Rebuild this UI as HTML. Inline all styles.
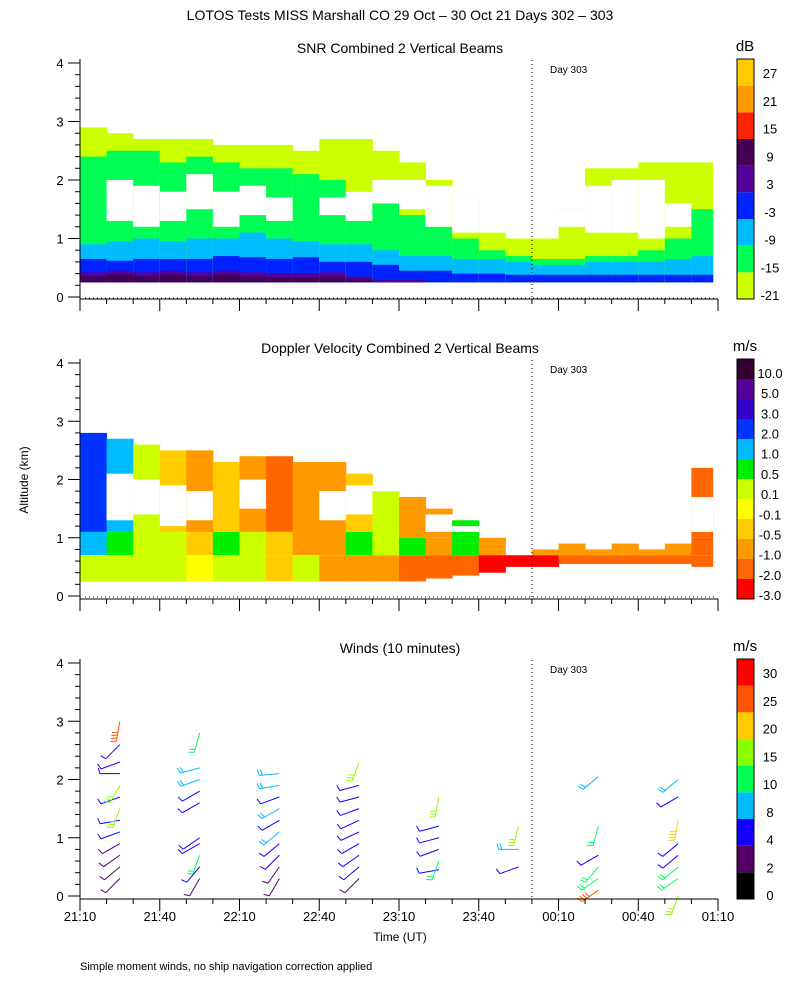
<!DOCTYPE html>
<html><head><meta charset="utf-8"><style>
body{margin:0;background:#fff;}
svg{display:block;font-family:"Liberation Sans",sans-serif;}
</style></head><body>
<svg id="chart" width="800" height="1000" viewBox="0 0 800 1000">
<rect width="800" height="1000" fill="#fff"/>
<text x="400" y="20" text-anchor="middle" font-size="14">LOTOS Tests MISS Marshall CO  29 Oct – 30 Oct 21 Days 302 – 303</text>
<text x="400" y="53" text-anchor="middle" font-size="14">SNR Combined 2 Vertical Beams</text>
<text x="400" y="353" text-anchor="middle" font-size="14">Doppler Velocity Combined 2 Vertical Beams</text>
<text x="400" y="653" text-anchor="middle" font-size="14">Winds (10 minutes)</text>
<text x="28" y="480" text-anchor="middle" font-size="12" transform="rotate(-90 28 480)">Altitude (km)</text>
<text x="400" y="941" text-anchor="middle" font-size="12">Time (UT)</text>
<text x="80" y="970" font-size="11">Simple moment winds, no ship navigation correction applied</text>
<g id="layer"></g>
</svg>
<script>
// ---- data ----
const colTimes = [0,10,20,30,40,50,60,70,80,90,100,110,120,130,140,150,160,170,180,190,200,210,220,230]; // minutes after 21:10
const snrPurpleTop = [0.42,0.45,0.42,0.45,0.42,0.45,0.42,0.4,0.4,0.42,0.35,0.3,0.3,0,0,0,0,0,0,0,0,0,0,0];
const snrBlueTop = [0.65,0.62,0.65,0.65,0.65,0.7,0.68,0.65,0.68,0.6,0.6,0.55,0.45,0.45,0.4,0.4,0.38,0.38,0.38,0.38,0.38,0.38,0.38,0.38];
const snrCyanTop = [0.9,0.95,1.0,0.95,1.0,1.0,1.1,1.0,0.95,0.9,0.9,0.8,0.7,0.7,0.65,0.65,0.6,0.55,0.55,0.6,0.6,0.6,0.65,0.7];
const snrGreenTop = [2.4,2.5,2.5,2.3,2.4,2.3,2.2,2.2,2.1,2.0,1.8,1.6,1.4,1.2,1.0,0.8,0.7,0.65,0.65,0.7,0.7,0.8,1.0,1.5];
const snrLimeTop = [2.9,2.8,2.7,2.7,2.7,2.6,2.6,2.6,2.5,2.7,2.7,2.5,2.3,2.0,1.7,1.2,1.0,1.0,1.5,2.2,2.2,2.3,2.3,2.3];
const snrHoleLo = [0,1.3,1.2,1.3,1.5,1.2,1.4,1.3,0,1.4,1.3,1.6,1.5,1.2,1.1,1.1,1.0,1.1,1.2,1.1,1.1,1.0,1.2,0];
const snrHoleHi = [0,2.0,1.9,1.8,2.1,1.8,1.9,1.7,0,1.7,1.8,2.0,2.0,1.9,2.2,2.5,2.6,2.5,1.9,1.9,2.0,2.0,1.6,0];
const dopBot1 = [0.25,0.25,0.25,0.25,0.25,0.25,0.25,0.25,0.25,0.25,0.25,0.25,0.25,0.3,0.35,0.4,0.5,0.5,0.55,0.55,0.55,0.55,0.55,0.5];
const dopTop1 = [0.7,0.7,0.7,0.7,0.7,0.7,0.7,0.7,0.7,0.7,0.7,0.7,0.7,0.7,0.7,0.7,0.7,0.7,0.7,0.7,0.7,0.7,0.7,0.7];
const dopV1 = [0.1,0.1,0.1,0.1,-0.1,0.1,0.1,-0.5,0.1,-1,-1,-1,-2,-2,-2,-3,-3,-3,-2,-2,-2,-2,-2,-2];
const dopTop2 = [1.1,1.1,1.1,1.1,1.1,1.1,1.1,1.1,1.1,1.1,1.1,1.1,1.0,1.0,0.9,0.8,0,0.8,0.9,0.8,0.9,0.8,0.9,1.0];
const dopV2 = [1.0,0.5,0.1,0.1,-0.5,0.5,0.1,-0.5,-1,-1,0.5,0.1,0.5,-1,0.5,-1,-1,-1,-1,-1,-1,-1,-1,-2];
const dopTop3 = [2.8,2.7,2.6,2.5,2.5,2.3,2.4,2.4,2.3,2.3,2.1,1.8,1.7,1.5,1.3,1.0,0,0,0,0,0,0,0,2.2];
const dopV3 = [2.0,1.0,0.1,-0.5,-1,-0.5,-1,-2,-1,-1,-0.5,0.1,-1,-1,0.5,-1,-1,-1,-1,-1,-1,-1,-1,-2];
const dopHoleLo = [0,1.3,1.4,1.2,1.3,0,1.5,0,0,1.3,1.4,0,0,1.1,1.1,0,0,0,0,0,0,0,0,1.1];
const dopHoleHi = [0,2.1,2.0,1.9,1.8,0,2.0,0,0,1.8,1.9,0,0,1.4,1.2,0,0,0,0,0,0,0,0,1.7];
const windTimes = [15,45,75,105,135,165,195,225];
const windH = [
 [0.3,0.5,0.7,0.9,1.1,1.3,1.5,1.7,1.9,2.1,2.3,2.6,3.0],
 [0.3,0.5,0.7,0.9,1.0,1.6,1.8,2.0,2.2,2.8],
 [0.3,0.5,0.7,0.9,1.1,1.3,1.5,1.7,1.9,2.1],
 [0.3,0.5,0.7,0.9,1.1,1.3,1.5,1.7,1.9,2.3],
 [0.45,0.6,0.8,1.0,1.2,1.7],
 [0.5,0.8,1.2],
 [0.1,0.3,0.5,0.7,1.2,2.05],
 [0.0,0.3,0.5,0.7,0.9,1.3,1.7,2.0]];
const windS = [
 [3,3,3,3,5,5,16,5,16,5,5,5,27],
 [3,5,12,5,5,5,5,9,9,12],
 [3,3,5,5,9,5,9,5,9,9],
 [3,5,5,5,5,5,5,5,5,17],
 [5,12,5,5,5,17],
 [5,9,17],
 [27,12,12,5,12,9],
 [17,12,12,5,5,22,5,9]];
const windD = [
 [225,230,235,240,250,260,200,250,210,270,250,225,190],
 [210,220,200,240,235,240,240,250,255,195],
 [210,215,225,230,230,240,240,250,260,265],
 [225,230,235,240,245,245,250,255,255,200],
 [260,200,250,255,255,190],
 [250,270,195],
 [235,235,220,240,195,230],
 [200,235,230,230,230,190,240,230]];
const snrLabels = ["-21","-15","-9","-3","3","9","15","21","27"];
const snrColors = ["#ccff00","#00ff55","#00bbff","#0022ff","#550099","#440055","#ff2200","#ff9900","#ffcc00"];
const dopLabels = ["-3.0","-2.0","-1.0","-0.5","-0.1","0.1","0.5","1.0","2.0","3.0","5.0","10.0"];
const dopBounds = [-99,-2.5,-1.5,-0.75,-0.3,0,0.3,0.75,1.5,2.5,4,7.5];
const dopColors = ["#ff0000","#ff6600","#ff9900","#ffcc00","#ffff00","#ccff00","#00ee00","#00bbff","#0033ff","#3300cc","#550099","#330033"];
const windLabels = ["0","2","4","8","10","15","20","25","30"];
const windBounds = [0,2,4,8,10,15,20,25,30];
const windColors = ["#000000","#550066","#1100ff","#00bbff","#00ff55","#88ff00","#ffcc00","#ff5500","#ff0000"];
const xTickLabels = ["21:10","21:40","22:10","22:40","23:10","23:40","00:10","00:40","01:10"];

// ---- helpers ----
const NS="http://www.w3.org/2000/svg";
const L=document.getElementById('layer');
function mk(tag,a,parent){const e=document.createElementNS(NS,tag);for(const k in a)e.setAttribute(k,a[k]);(parent||L).appendChild(e);return e;}
const X0=80,X1=718;
function xs(m){return X0+m/240*(X1-X0);}
const panels=[{top:63,bot:297,ax:299},{top:363,bot:596,ax:599},{top:663,bot:896,ax:899}];
function ys(p,h){return panels[p].bot-(panels[p].bot-panels[p].top)*h/4;}
function dopColor(v){let i=0;for(let k=0;k<dopBounds.length;k++)if(v>=dopBounds[k])i=k;return dopColors[i];}
function windColor(s){let i=0;for(let k=0;k<windBounds.length;k++)if(s>=windBounds[k])i=k;return windColors[i];}
function band(p,i,lo,hi,color,name){
  if(hi<=lo)return;
  const x=xs(colTimes[i]), w=xs(Math.min(colTimes[i]+10,238))-x;
  const r=mk('rect',{x:x,y:ys(p,hi),width:w+0.5,height:ys(p,lo)-ys(p,hi),fill:color});
  
  
}
// SNR
for(let i=0;i<colTimes.length;i++){
  band(0,i,0.25,snrLimeTop[i],snrColors[0],'snr-cell');
  band(0,i,0.25,snrGreenTop[i],snrColors[1],'snr-cell');
  if(snrHoleHi[i]>0)band(0,i,snrHoleLo[i],Math.min(snrHoleHi[i],snrLimeTop[i]),'#ffffff','snr-gap');
  band(0,i,0.25,snrCyanTop[i],snrColors[2],'snr-cell');
  band(0,i,0.25,snrBlueTop[i],snrColors[3],'snr-cell');
  band(0,i,0.25,snrPurpleTop[i]*0.85,snrColors[5],'snr-cell');
  band(0,i,snrPurpleTop[i]*0.85,snrPurpleTop[i],snrColors[4],'snr-cell');
}
// Doppler
for(let i=0;i<colTimes.length;i++){
  band(1,i,dopTop2[i]||dopTop1[i],dopTop3[i],dopColor(dopV3[i]),'doppler-cell');
  if(dopHoleHi[i]>0)band(1,i,dopHoleLo[i],dopHoleHi[i],'#ffffff','doppler-gap');
  band(1,i,dopTop1[i],dopTop2[i],dopColor(dopV2[i]),'doppler-cell');
  band(1,i,dopBot1[i],dopTop1[i],dopColor(dopV1[i]),'doppler-cell');
}
// Winds
for(let j=0;j<windTimes.length;j++){
  const x0=xs(windTimes[j]);
  for(let k=0;k<windH[j].length;k++){
    const y0=ys(2,windH[j][k]), d=windD[j][k]*Math.PI/180, Lh=20, c=windColor(windS[j][k]);
    const x1=x0+Lh*Math.sin(d), y1=y0-Lh*Math.cos(d);
    const g=mk('g',{stroke:c,'stroke-width':1,fill:'none'});
    
    
    mk('line',{x1:x0,y1:y0,x2:x1,y2:y1},g);
    const n=Math.max(1,Math.round(windS[j][k]/5));
    for(let f=0;f<Math.min(n,4);f++){
      const fx=x1-f*3*Math.sin(d), fy=y1+f*3*Math.cos(d);
      mk('line',{x1:fx,y1:fy,x2:fx+6*Math.sin(d+1.3),y2:fy-6*Math.cos(d+1.3)},g);
    }
  }
}
// axes
for(let p=0;p<3;p++){
  const P=panels[p];
  const ax=mk('g',{stroke:'#000','stroke-width':1});
  
  
  mk('line',{x1:X0,y1:P.top-4,x2:X0,y2:P.ax},ax);
  mk('line',{x1:X0,y1:P.ax,x2:X1,y2:P.ax},ax);
  for(let h=0;h<=20;h++){const y=ys(p,h*0.2);mk('line',{x1:X0-(h%5==0?12:5),y1:y,x2:X0,y2:y},ax);}
  for(let m=0;m<=240;m+=10){const x=xs(m);
    if(m%30==0)mk('line',{x1:x,y1:P.ax,x2:x,y2:P.ax+12},ax);
    else mk('line',{x1:x,y1:P.ax,x2:x,y2:P.ax+5},ax);}
  for(let h=0;h<=4;h++){const t=mk('text',{x:60,y:ys(p,h)+5,'font-size':13,'text-anchor':'middle'});t.textContent=h;
    }
  const dl=mk('line',{x1:xs(170),y1:P.top-3,x2:xs(170),y2:P.ax,stroke:'#000','stroke-dasharray':'1,3'});
  
  const dt=mk('text',{x:550,y:P.top+10,'font-size':10});dt.textContent='Day 303';
  
  if(p<2){const zl=mk('line',{x1:85,y1:P.bot+1,x2:715,y2:P.bot+1,stroke:'#000','stroke-dasharray':'1,3'});
    }
}
xTickLabels.forEach((s,i)=>{const t=mk('text',{x:xs(i*30),y:921,'font-size':13,'text-anchor':'middle'});t.textContent=s;
  });
// colorbars
function cbar(top,bot,colors,labels,unit,name){
  const g=mk('g',{});
  
  
  const n=colors.length,h=(bot-top)/n;
  colors.forEach((c,i)=>mk('rect',{x:737,y:bot-(i+1)*h,width:17,height:h,fill:c},g));
  mk('rect',{x:737,y:top,width:17,height:bot-top,fill:'none',stroke:'#000'},g);
  labels.forEach((s,i)=>{const t=mk('text',{x:770,y:bot-i*(bot-top-18)/(labels.length-1)+1,'font-size':13,'text-anchor':'middle'},g);t.textContent=s;});
  const u=mk('text',{x:745,y:top-8,'font-size':15,'text-anchor':'middle'},g);u.textContent=unit;
}
cbar(59,299,snrColors,snrLabels,'dB','snr-colorbar');
cbar(359,599,dopColors,dopLabels,'m/s','doppler-colorbar');
cbar(659,899,windColors,windLabels,'m/s','winds-colorbar');
</script>
</body></html>
